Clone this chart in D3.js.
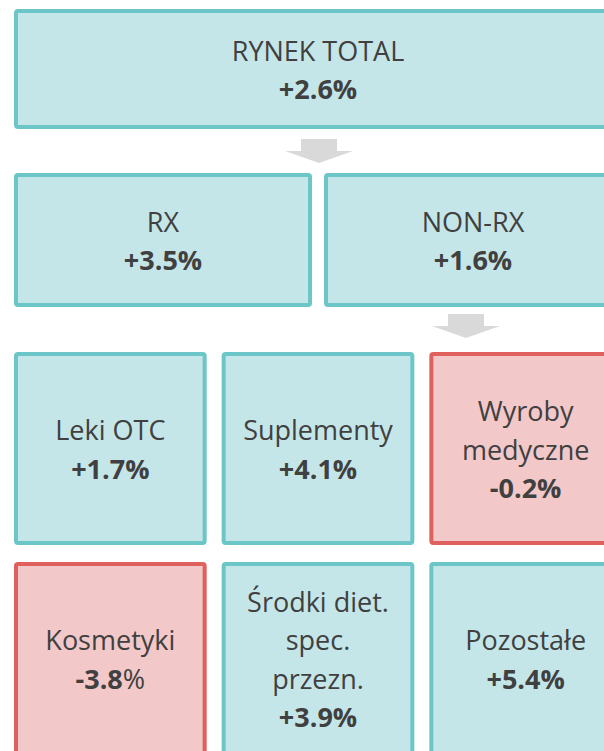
<!DOCTYPE html>
<html><head><meta charset="utf-8">
<script src="https://cdn.jsdelivr.net/npm/d3@7"></script>
<style>html,body{margin:0;padding:0;background:#fff;}svg{display:block;}</style>
</head><body>
<div id="chart"></div>
<script>
// Data
const level1Labels = ["RYNEK TOTAL"];
const level1Values = [2.6];
const level2Labels = ["RX", "NON-RX"];
const level2Values = [3.5, 1.6];
const level3Labels = [["Leki OTC"], ["Suplementy"], ["Wyroby", "medyczne"]];
const level3Values = [1.7, 4.1, -0.2];
const level4Labels = [["Kosmetyki"], ["Środki diet.", "spec.", "przezn."], ["Pozostałe"]];
const level4Values = [-3.8, 3.9, 5.4];

const W = 604, H = 751;
const svg = d3.select("#chart").append("svg").attr("width", W).attr("height", H);

const colors = {
  posFill: "#c5e6e8", posStroke: "#6cc5c6",
  negFill: "#f2c8c8", negStroke: "#e0605e",
  text: "#404040", arrow: "#d9d9d9"
};
const font = "'Open Sans', sans-serif";
const fs = 27, lh = 38.5;
const sw = 4;

function fmt(v) { return (v >= 0 ? "+" : "") + v.toFixed(1); }

const rows = [
  { labels: level1Labels.map(d => [d]), values: level1Values, top: 9, h: 120, pad: 0 },
  { labels: level2Labels.map(d => [d]), values: level2Values, top: 173, h: 134, pad: 12 },
  { labels: level3Labels, values: level3Values, top: 352, h: 193, pad: 15 },
  { labels: level4Labels, values: level4Values, top: 562, h: 193, pad: 15 }
];

rows.forEach(row => {
  const n = row.values.length;
  const total = 608;
  const band = (total - row.pad * (n - 1)) / n;
  const x = d3.scaleBand().domain(d3.range(n)).range([14, 14 + total])
    .paddingInner(n > 1 ? row.pad / (band + row.pad) : 0).paddingOuter(0);
  const y = d3.scaleLinear().domain([0, 1]).range([row.top, row.top + row.h]);
  row.values.forEach((v, i) => {
    const neg = v < 0;
    const g = svg.append("g");
    g.append("rect")
      .attr("x", x(i) + sw / 2).attr("y", y(0) + sw / 2)
      .attr("width", x.bandwidth() - sw).attr("height", y(1) - y(0) - sw)
      .attr("rx", 2)
      .attr("fill", neg ? colors.negFill : colors.posFill)
      .attr("stroke", neg ? colors.negStroke : colors.posStroke)
      .attr("stroke-width", sw);
    const lines = row.labels[i];
    const nl = lines.length + 1;
    const cx = x(i) + x.bandwidth() / 2;
    const cy = y(0.5) + 1.5;
    const t = g.append("text").attr("text-anchor", "middle")
      .attr("font-family", font).attr("font-size", fs).attr("fill", colors.text);
    lines.forEach((l, k) => {
      t.append("tspan").attr("x", cx).attr("y", cy + (k - (nl - 1) / 2) * lh + fs * 0.36).text(l);
    });
    const vt = t.append("tspan").attr("x", cx).attr("y", cy + ((nl - 1) - (nl - 1) / 2) * lh + fs * 0.36)
      .attr("font-weight", "bold").text(fmt(v));
    if (v === -3.8) {
      t.append("tspan").attr("font-weight", "normal").text("%");
    } else {
      vt.text(fmt(v) + "%");
    }
  });
});

// Arrows
const arrowData = [{ cx: 319, top: 139 }, { cx: 466, top: 314 }];
arrowData.forEach(a => {
  const p = d3.path();
  p.moveTo(a.cx - 18, a.top);
  p.lineTo(a.cx + 18, a.top);
  p.lineTo(a.cx + 18, a.top + 12);
  p.lineTo(a.cx + 34, a.top + 12);
  p.lineTo(a.cx, a.top + 24);
  p.lineTo(a.cx - 34, a.top + 12);
  p.lineTo(a.cx - 18, a.top + 12);
  p.closePath();
  svg.append("path").attr("d", p.toString()).attr("fill", colors.arrow);
});
</script>
</body></html>
